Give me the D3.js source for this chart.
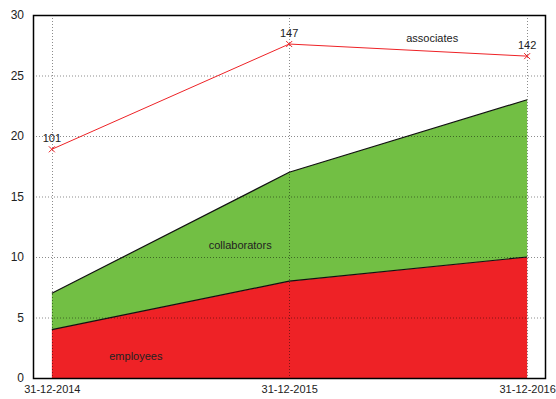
<!DOCTYPE html>
<html><head><meta charset="utf-8">
<script src="https://cdn.jsdelivr.net/npm/d3@7"></script>
<style>body{margin:0;background:#fff}svg{display:block}text{font-family:"Liberation Sans",Arial,sans-serif;fill:#222}</style>
</head><body>
<svg id="c" width="556" height="399"></svg>
<script>
const dates = ["2014-12-31","2015-12-31","2016-12-31"];
const dateLabels = ["31-12-2014","31-12-2015","31-12-2016"];
const employees = [4, 8, 10];
const collaborators = [3, 9, 13];
const associatesY = [18.9, 27.6, 26.6];
const associatesLabels = ["101","147","142"];
const yTicks = [0,5,10,15,20,25,30];

const svg = d3.select("#c");
const L=33, R=546, T=15, B=378;
const parse = d3.timeParse("%Y-%m-%d");
const dts = dates.map(parse);
const pad = 29*24*3600*1000;
const x = d3.scaleTime().domain([new Date(+dts[0]-pad), new Date(+dts[2]+pad)]).range([L,R]);
const y = d3.scaleLinear().domain([0,30]).range([B,T]);

const data = dts.map((d,i)=>({d, e:employees[i], c:collaborators[i]}));
const stack = d3.stack().keys(["e","c"])(data);
const area = d3.area().x(d=>x(d.data.d)).y0(d=>y(d[0])).y1(d=>y(d[1]));
const cols = ["#ee2226","#72bf44"];
svg.selectAll(".ar").data(stack).join("path").attr("d",area).attr("fill",(d,i)=>cols[i]);
const topLine = d3.line().x(d=>x(d.data.d)).y(d=>y(d[1]));
svg.selectAll(".tl").data(stack).join("path").attr("d",topLine).attr("fill","none").attr("stroke","#111").attr("stroke-width",1.2);

// grid
const g = svg.append("g");
g.selectAll(".hg").data(yTicks.filter(v=>v>0&&v<30)).join("line")
 .attr("x1",L).attr("x2",R).attr("y1",d=>y(d)+0.5).attr("y2",d=>y(d)+0.5)
 .attr("stroke","#000").attr("stroke-opacity",0.45).attr("stroke-dasharray","1,2");
g.selectAll(".vg").data(dts).join("line")
 .attr("x1",d=>Math.round(x(d))+0.5).attr("x2",d=>Math.round(x(d))+0.5).attr("y1",T).attr("y2",B)
 .attr("stroke","#000").attr("stroke-opacity",0.45).attr("stroke-dasharray","1,2");

// associates line
const ln = d3.line().x((d,i)=>x(dts[i])).y(d=>y(d));
svg.append("path").attr("d",ln(associatesY)).attr("fill","none").attr("stroke","#ee2226").attr("stroke-width",1);
svg.selectAll(".mk").data(associatesY).join("path")
 .attr("d",(d,i)=>{const cx=x(dts[i]),cy=y(d),s=3;return `M${cx-s},${cy-s}L${cx+s},${cy+s}M${cx-s},${cy+s}L${cx+s},${cy-s}`;})
 .attr("stroke","#ee2226").attr("stroke-width",1);
svg.selectAll(".lb").data(associatesY).join("text")
 .attr("x",(d,i)=>x(dts[i])).attr("y",d=>y(d)-7).attr("text-anchor","middle").attr("font-size",11)
 .text((d,i)=>associatesLabels[i]);

// series labels
svg.append("text").attr("x",x(dts[1])-49).attr("y",y(10.5)-2).attr("text-anchor","middle").attr("font-size",11).text("collaborators");
svg.append("text").attr("x",x(dts[0])+84).attr("y",y(1.5)).attr("text-anchor","middle").attr("font-size",11).text("employees");
svg.append("text").attr("x",x(dts[1])+143).attr("y",y(28.3)+6).attr("text-anchor","middle").attr("font-size",11).text("associates");

// frame
svg.append("rect").attr("x",L+0.5).attr("y",T+0.5).attr("width",R-L-1).attr("height",B-T).attr("fill","none").attr("stroke","#000").attr("stroke-width",1.5);

// axes labels
const ya = d3.axisLeft(y).tickValues(yTicks).tickSize(0).tickPadding(9);
svg.append("g").attr("transform",`translate(${L},0)`).call(ya).call(s=>s.select(".domain").remove())
 .selectAll("text").attr("font-size",12).attr("fill","#222").style("font-family","Liberation Sans, Arial, sans-serif");
const xa = d3.axisBottom(x).tickValues(dts).tickSize(0).tickPadding(7).tickFormat((d,i)=>dateLabels[i]);
svg.append("g").attr("transform",`translate(0,${B})`).call(xa).call(s=>s.select(".domain").remove())
 .selectAll("text").attr("font-size",11).attr("fill","#222").style("font-family","Liberation Sans, Arial, sans-serif");
</script>
</body></html>
